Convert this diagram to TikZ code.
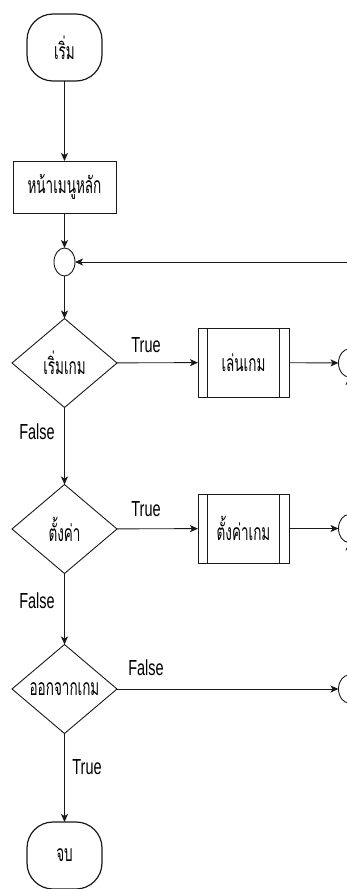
\documentclass[tikz,border=0pt]{standalone}
\usepackage{fontspec}
\usepackage{graphicx}
\setmainfont{Liberation Sans}
\newfontfamily\thaifont[Script=Thai]{Loma}
\usetikzlibrary{shapes.geometric,arrows.meta}
\newcommand\thtxt[1]{\scalebox{1}[1.7]{\thaifont #1}}
\newcommand\lbtxt[1]{\scalebox{1}[1.5]{#1}}
\begin{document}
\begin{tikzpicture}[x=1pt,y=1pt,
  every node/.style={inner sep=0pt, outer sep=0pt},
  ln/.style={line width=0.9pt, draw=black!90},
  arr/.style={ln, -{Stealth[length=8pt,width=7pt,inset=2pt]}},
  term/.style={ln, draw, line width=1.2pt, rounded corners=26pt, minimum width=75pt, minimum height=67pt, font=\fontsize{13.5}{13.5}\selectfont},
  proc/.style={ln, draw, minimum width=103pt, minimum height=52pt, font=\fontsize{13.5}{13.5}\selectfont},
  sub/.style={ln, draw, minimum width=91pt, minimum height=69pt, font=\fontsize{13.5}{13.5}\selectfont},
  dec/.style={ln, draw, diamond, minimum width=105pt, minimum height=89pt, aspect=1.18, font=\fontsize{13.5}{13.5}\selectfont},
  conn/.style={ln, draw, ellipse, minimum width=21pt, minimum height=28pt},
  lab/.style={font=\fontsize{14.5}{14.5}\selectfont}
]
\useasboundingbox (0,0) rectangle (347,-889);
\clip (0,0) rectangle (347,-889);

\node[term] (start) at (64.5,-47.5) {\thtxt{เริ่ม}};
\node[proc] (menu) at (64.5,-187) {\thtxt{หน้าเมนูหลัก}};
\node[conn] (j) at (64.5,-262) {};
\node[dec] (d1) at (64.5,-363) {\thtxt{เริ่มเกม}};
\node[sub] (p1) at (243.5,-362.5) {\thtxt{เล่นเกม}};
\node[conn] (c1) at (349,-363) {};
\node[dec] (d2) at (64.5,-529) {\thtxt{ตั้งค่า}};
\node[sub] (p2) at (243.5,-528.5) {\thtxt{ตั้งค่าเกม}};
\node[conn] (c2) at (349,-528.5) {};
\node[dec] (d3) at (64.5,-689) {\thtxt{ออกจากเกม}};
\node[conn] (c3) at (349,-689) {};
\node[term] (end) at (64.5,-855.5) {\thtxt{จบ}};

\foreach \p in {p1,p2}{
  \draw[ln] ([xshift=9.5pt]\p.north west) -- ([xshift=9.5pt]\p.south west);
  \draw[ln] ([xshift=-9.5pt]\p.north east) -- ([xshift=-9.5pt]\p.south east);
}

\draw[arr] (start) -- (menu);
\draw[arr] (menu) -- (j);
\draw[arr] (j) -- (d1);
\draw[arr] (d1) -- (p1);
\draw[arr] (p1) -- (c1);
\draw[arr] (d1) -- (d2);
\draw[arr] (d2) -- (p2);
\draw[arr] (p2) -- (c2);
\draw[arr] (d2) -- (d3);
\draw[arr] (d3) -- (c3);
\draw[arr] (d3) -- (end);
\draw[arr] (c3) -- (c2);
\draw[arr] (c2) -- (c1);
\draw[arr] (c1.north) |- (j.east);

\node[lab] (t1) at (146,-345) {\lbtxt{True}};
\node[lab] (f1) at (37,-432) {\lbtxt{False}};
\node[lab] (t2) at (146,-509) {\lbtxt{True}};
\node[lab] (f2) at (37,-601) {\lbtxt{False}};
\node[lab] (f3) at (146,-668) {\lbtxt{False}};
\node[lab] (t3) at (87,-767) {\lbtxt{True}};
\end{tikzpicture}
\end{document}
